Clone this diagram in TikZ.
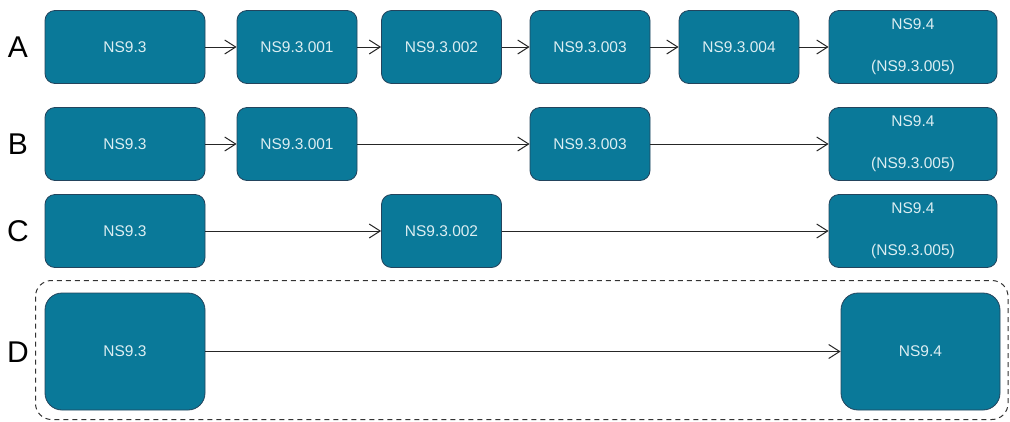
\documentclass[tikz,border=0pt]{standalone}
\usepackage{fontspec}
\setmainfont{Liberation Sans}
\usetikzlibrary{arrows.meta}
\definecolor{boxfill}{RGB}{10,121,153}
\definecolor{boxline}{RGB}{35,68,93}
\definecolor{boxtext}{RGB}{220,238,242}
\begin{document}
\begin{tikzpicture}[x=1pt,y=-1pt,
  nsbox/.style={draw=boxline, line width=0.8pt, fill=boxfill, rounded corners=10pt,
    text=boxtext, font=\fontsize{15.5}{21}\selectfont, align=center,
    minimum height=73pt, inner sep=0pt},
  bigbox/.style={nsbox, rounded corners=17pt, minimum height=117pt},
  rowlabel/.style={font=\fontsize{30}{30}\selectfont, text=black, inner sep=0pt},
  conn/.style={draw=black!85, line width=1pt, -{Straight Barb[length=11pt,width=14pt,line width=1pt]}},
  group/.style={draw=black!80, line width=1pt, dash pattern=on 5pt off 4pt, rounded corners=16pt}
]
\useasboundingbox (0,0) rectangle (1010,421);
\fill[white] (0,0) rectangle (1010,421);

% group frame for D
\draw[group] (35.5,280.5) rectangle (1008,419.5);

% Row labels
\node[rowlabel] (LA) at (18,47) {A};
\node[rowlabel] (LB) at (18,144) {B};
\node[rowlabel] (LC) at (18,231) {C};
\node[rowlabel] (LD) at (18,352) {D};

% Row A
\node[nsbox, minimum width=160pt] (a1) at (125,47) {NS9.3};
\node[nsbox, minimum width=120pt] (a2) at (297,47) {NS9.3.001};
\node[nsbox, minimum width=120pt] (a3) at (441.5,47) {NS9.3.002};
\node[nsbox, minimum width=120pt] (a4) at (590,47) {NS9.3.003};
\node[nsbox, minimum width=120pt] (a5) at (739,47) {NS9.3.004};
\node[nsbox, minimum width=168pt] (a6) at (913,47) {NS9.4\\[21pt](NS9.3.005)};
\draw[conn] (a1) -- (a2);
\draw[conn] (a2) -- (a3);
\draw[conn] (a3) -- (a4);
\draw[conn] (a4) -- (a5);
\draw[conn] (a5) -- (a6);

% Row B
\node[nsbox, minimum width=160pt] (b1) at (125,144) {NS9.3};
\node[nsbox, minimum width=120pt] (b2) at (297,144) {NS9.3.001};
\node[nsbox, minimum width=120pt] (b3) at (590,144) {NS9.3.003};
\node[nsbox, minimum width=168pt] (b4) at (913,144) {NS9.4\\[21pt](NS9.3.005)};
\draw[conn] (b1) -- (b2);
\draw[conn] (b2) -- (b3);
\draw[conn] (b3) -- (b4);

% Row C
\node[nsbox, minimum width=160pt] (c1) at (125,231) {NS9.3};
\node[nsbox, minimum width=120pt] (c2) at (441.5,231) {NS9.3.002};
\node[nsbox, minimum width=168pt] (c3) at (913,231) {NS9.4\\[21pt](NS9.3.005)};
\draw[conn] (c1) -- (c2);
\draw[conn] (c2) -- (c3);

% Row D
\node[bigbox, minimum width=160pt] (d1) at (125,351.5) {NS9.3};
\node[bigbox, minimum width=159pt] (d2) at (920.5,351.5) {NS9.4};
\draw[conn] (d1) -- (d2);
\end{tikzpicture}
\end{document}
